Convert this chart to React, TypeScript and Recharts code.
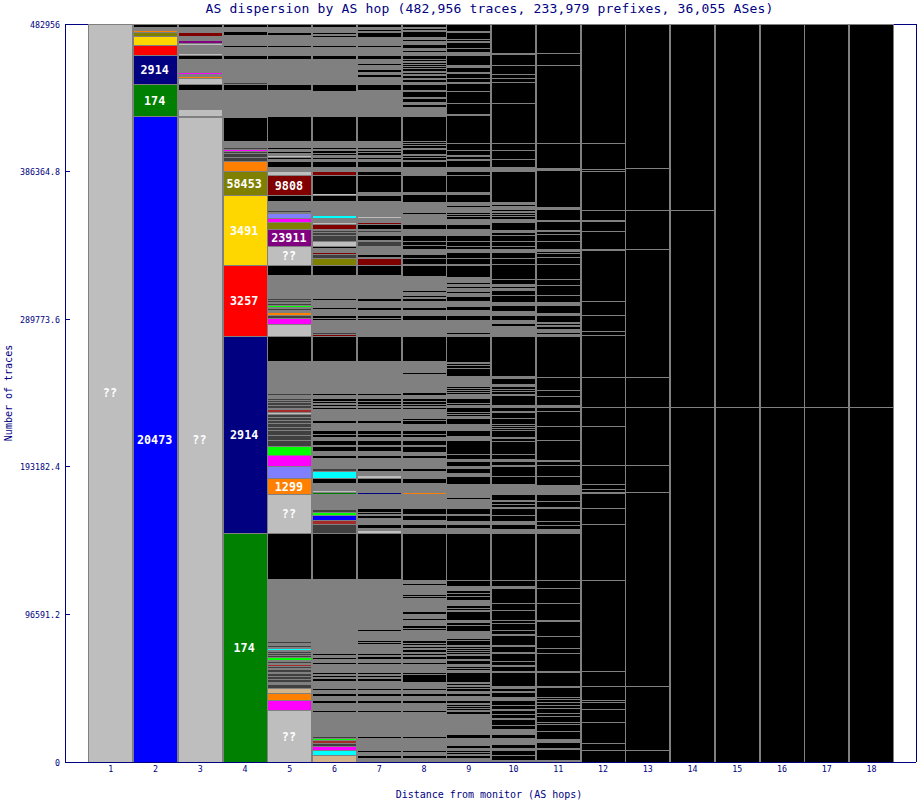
import React from "react";
import { BarChart, Bar, XAxis, YAxis, ReferenceLine } from "recharts";

const TOTAL = 482956;
const yTicks = [0, 96591.2, 193182.4, 289773.6, 386364.8, 482956];
const NAVY = "#000080";
const MONO = "'DejaVu Sans Mono', 'Liberation Mono', monospace";

const palette: Record<string, string> = {
  g: "#808080", k: "#000000", d: "#404040", l: "#BEBEBE", b: "#0000FF", n: "#000080",
  G: "#008000", r: "#FF0000", y: "#FFD700", o: "#808000", O: "#FF8000", m: "#FF00FF",
  M: "#800080", R: "#800000", c: "#00FFFF", p: "#8080FF", e: "#00FF00", B: "#A52A2A", t: "#D2B48C",
};

// Every list reads from the top of the column down. Even entries are the gray
// gaps between ASes (trace counts), odd entries the bands named in the *Bands string.
const hop1 = [654, 482302];
const hop1Bands = "l";
const hop1Labels = { l482302: "??" };

const hop2 = [654, 1309, 2618, 654, 654, 1963, 654, 5235, 654, 5890, 654, 18323, 654, 20287, 654, 422094];
const hop2Bands = "kOoyrnGb";
const hop2Labels = { b422094: "20473", n18323: "2914", G20287: "174" };

const hop3 = [654, 1309, 3926, 1963, 3272, 1309, 654, 654, 5890, 654, 654, 1963, 9162, 654, 1963, 654, 654, 3272, 654, 3272, 13088, 3926, 1309, 421440];
const hop3Bands = "kRMllkmOlkll";
const hop3Labels = { l421440: "??" };

const hop4 = [654, 1309, 3272, 1963, 7199, 654, 5890, 1963, 15706, 654, 654, 3272, 18323, 15051, 4581, 654, 654, 654, 654, 654, 654, 1963, 654, 1963, 654, 5890, 654, 15051, 654, 45154, 654, 45809, 654, 128264, 654, 149205];
const hop4Bands = "kkkkdkkdmdddOoyrnG";
const hop4Labels = { o15051: "58453", y45154: "3491", r45809: "3257", n128264: "2914", G149205: "174" };

const hop5 = [654,1309,3926,1309,7199,654,5890,1963,17015,3272,17669,15706,4581,654,1963,654,1963,654,654,654,1963,3272,3272,1963,654,12434,654,3272,6544,654,1309,2618,654,1963,654,3926,654,10471,654,11779,654,5890,15706,654,654,654,1309,654,654,654,1309,654,1963,1309,654,1309,654,3272,654,7199,654,15706,21596,654,2618,654,654,654,654,1309,654,1309,1309,1309,654,654,654,1309,654,1309,654,1309,654,1963,654,1309,654,2618,654,2618,654,3272,654,5235,654,6544,654,7199,654,9816,654,24868,654,29448,41228,654,1963,654,1309,654,1309,654,654,654,654,654,654,1309,1309,654,1309,654,654,654,1309,1309,1309,1309,654,1309,654,1309,1963,1963,654,2618,654,3926,654,5890,654,33375];
const hop5Bands = "kkkkkkkk" + "lkklRkdpmoMlk" + "dddedOdmlk" + "dddddBldddddddd" + "empOlk" + "ddcddd" + "edB" + "dddddd" + "tOml";
const hop5Labels = { R12434: "9808", M10471: "23911", l11779: "??", O9816: "1299", l24868: "??", l33375: "??" };

const hop6 = [654,1309,3926,654,1309,654,5890,654,5890,1963,17015,3926,17015,15706,4581,654,1309,1309,654,654,1963,654,1963,3272,3272,1963,654,11779,0,654,654,3272,9816,1309,3272,654,654,2618,1309,654,654,1309,654,3272,654,2618,654,654,3272,654,654,1963,654,3926,654,5890,15706,654,5235,654,4581,1309,654,654,8507,654,654,654,654,15706,21596,654,2618,1309,654,654,1309,654,1309,654,7853,1309,5235,1963,654,1309,2618,2618,1309,2618,3272,1309,7199,1309,654,3926,654,2618,5235,654,654,654,10471,1309,654,1309,654,2618,654,1963,654,5235,654,29448,49081,654,1963,654,2618,654,5890,654,1309,654,1309,1309,5235,654,2618,1309,3272,1309,5235,654,16360,654,654,654,654,1309,654,1309,654,1963,654,2618,654,3926];
const hop6Bands = "kkkkkkkkkkkk" + "RklkclRdddlkRdo" + "kkkkk" + "dR" + "kkkkkkkkkkkk" + "dcklGdebBd" + "kkkkkkkkkkk" + "deBdmct";

const hop7 = [654,1309,1963,654,1309,2618,5890,654,5890,1963,3272,654,3272,1309,1963,1309,5235,3272,17669,15706,4581,654,1309,654,654,1309,1963,654,1963,3272,3272,1963,654,10471,2618,3272,10471,654,3272,654,654,2618,1309,654,2618,2618,1309,2618,5890,1309,1309,3926,654,5890,15706,1309,4581,1309,3926,1309,654,654,11125,15706,21596,654,2618,1309,654,1309,654,654,1309,654,7853,1309,5235,1963,654,1309,2618,2618,1309,2618,3272,1309,7199,1309,3272,1309,654,2618,6544,654,9816,1963,654,654,1309,1309,4581,1963,1963,1309,654,29448,33375,654,6544,654,654,654,6544,654,1309,1309,2618,654,5890,654,1309,654,1309,1309,5235,654,2618,1309,3272,1309,5235,654,16360,654,8507,654,2618,1309,2618];
const hop7Bands = "kkkkkkkkkkkkkkkkkk" + "lRkdkdkR" + "kkkkkkkkkkkkkkkkkk" + "lkn" + "kkkk" + "l";

const hop8 = [654,1309,1309,654,1309,3272,1963,654,2618,1963,1963,654,2618,1963,654,654,1309,654,654,654,654,654,654,1309,1309,654,1309,1309,1309,1309,1963,3272,1309,3272,1309,1963,1963,1309,6544,15706,
  654,654,654,654,654,1309,1309,2618,1309,654,654,1309,1309,3272,5890,10471,1963,4581,7199,654,
  7199,2618,4581,3272,654,1963,654,1963,3926,1963,654,3272,1309,6544,9816,654,2618,654,1309,1309,
  4581,1309,3926,2618,11125,15706,7853,654,12434,1309,2618,1309,654,1309,654,654,1309,654,6544,654,
  654,1963,4581,1963,654,1309,2618,2618,1309,3272,2618,1309,7199,1309,5235,2618,6544,654,
  9816,3272,1309,2618,3272,1963,3926,30103,2618,654,6544,654,654,654,9162,1309,3272,654,3926,1309,654,654,7199,1309,654,654,1309,654,1309,1309,1309,654,1309,1309,2618,654,5890,654,654,4581,4581,654,2618,1309,3272,1309,5235,654,16360,654,8507,654,2618,1309,2618];
const hop8Bands = "k".repeat(58) + "O";

const hop9 = [654,3926,1309,3926,654,654,1309,3272,654,1963,2618,5890,1963,2618,1309,2618,654,1963,1309,4581,654,7199,654,6544,1309,17669,654,3926,654,2618,1309,1309,1309,3926,3272,1963,654,10471,1963,4581,2618,654,3926,654,654,654,654,1309,3926,2618,4581,3272,654,2618,654,1309,2618,3272,654,3272,1309,7199,3926,654,1963,654,2618,654,2618,2618,3926,1963,3926,2618,8507,654,1963,16360,1309,654,654,1309,654,4581,7199,654,654,654,654,654,654,654,3272,2618,654,654,1963,2618,654,654,654,654,1963,3272,4581,3272,3272,8507,654,2618,1963,2618,1963,2618,2618,4581,9162,654,6544,3272,1309,3272,2618,1963,3926,30103,654,3272,3272,1309,654,1309,654,1963,3926,1309,654,654,1309,5235,1963,1309,654,3272,5235,654,654,2618,1309,654,654,654,654,654,654,654,1309,1963,1309,1963,1963,654,654,654,1963,5890,1309,654,1309,654,654,1309,1963,1309,3272,1309,1309,654,654,654,654,654,1309,1309,13743,1963,5235,1309,1963,654,654,654,1309,1309,2618];

const hop10 = [654,18323,1309,6544,654,5235,654,1963,654,1963,654,13088,654,25522,654,3926,654,5235,654,4581,3272,19632,1963,654,2618,654,1309,654,654,654,654,1309,2618,4581,1963,1309,654,3272,654,2618,654,1309,2618,3272,654,3272,654,9162,654,2618,1963,654,1963,2618,654,3926,2618,3272,3272,2618,2618,1309,7199,25522,1963,3272,1963,1309,654,654,654,1309,1309,5890,1963,1963,1309,3272,654,3272,654,654,654,654,654,654,654,3926,1309,1309,654,7853,654,2618,1963,1963,1309,5890,654,4581,7199,3272,1309,1309,654,1309,1309,3926,654,3272,2618,2618,3272,30103,654,3272,1963,9162,654,3926,654,5890,654,1309,654,3926,654,1963,1309,5890,1309,3272,1309,4581,654,1963,1309,2618,1309,8507,1963,1309,1309,2618,2618,2618,654,1963,1309,1963,654,1963,1309,3272,654,1963,3926,1963,4581,1963,1963,2618,654,2618,1309];

const hop11 = [654,18323,654,7199,654,50390,654,15706,1963,23559,1963,6544,1309,5235,1309,1309,654,3926,654,4581,1963,654,654,1963,654,3926,654,9162,654,3272,654,5890,654,3926,2618,4581,1963,3926,1309,654,1309,1309,2618,654,1963,26176,654,7853,654,3272,654,5235,1963,1963,654,9162,654,8507,654,12434,1309,1963,654,6544,654,5235,6544,3926,654,3272,1309,7853,654,1963,654,1963,3272,30103,654,4581,654,9162,654,10471,1309,9162,654,7199,654,2618,654,11125,1309,8507,1309,5890,654,654,654,1309,654,1309,654,1309,654,2618,654,1309,654,3272,654,654,654,3926,654,4581,2618,3272,1309,6544,1309];

const hop12 = [654,77220,654,16360,654,654,654,24868,654,5890,1309,5890,654,11125,1309,32721,654,8507,654,9816,654,1963,654,26831,654,18978,654,11779,654,24868,654,11779,654,2618,654,1309,1309,9162,654,9816,654,35993,654,58897,654,9162,654,8507,654,654,654,3926,654,7853,654,13088,654,3926,654,7199];
const hop13 = [654,93581,654,26831,654,24868,654,83110,654,18978,654,37301,654,17015,654,126301,654,41228,654,7199];
const hop14 = [654,121066,654,128264,654,231661];
const hop15 = [654,249985,654,231661];
const hop16 = [654,249985,654,231661];
const hop17 = [654,249985,654,231661];
const hop18 = [654,249985,654,231661];

const columns: { values: number[]; bands: string; labels: Record<string, string> }[] = [
  { values: hop1, bands: hop1Bands, labels: hop1Labels },
  { values: hop2, bands: hop2Bands, labels: hop2Labels },
  { values: hop3, bands: hop3Bands, labels: hop3Labels },
  { values: hop4, bands: hop4Bands, labels: hop4Labels },
  { values: hop5, bands: hop5Bands, labels: hop5Labels },
  { values: hop6, bands: hop6Bands, labels: {} },
  { values: hop7, bands: hop7Bands, labels: {} },
  { values: hop8, bands: hop8Bands, labels: {} },
  { values: hop9, bands: "", labels: {} },
  { values: hop10, bands: "", labels: {} },
  { values: hop11, bands: "", labels: {} },
  { values: hop12, bands: "", labels: {} },
  { values: hop13, bands: "", labels: {} },
  { values: hop14, bands: "", labels: {} },
  { values: hop15, bands: "", labels: {} },
  { values: hop16, bands: "", labels: {} },
  { values: hop17, bands: "", labels: {} },
  { values: hop18, bands: "", labels: {} },
];

// Stack rows: s0 is the bottom of each column.
const rows = columns.map((col, i) => {
  const row: Record<string, any> = { hop: String(i + 1) };
  const n = col.values.length;
  for (let top = 0; top < n; top++) {
    const code = top % 2 === 0 ? "g" : col.bands[(top - 1) / 2] ?? "k";
    const j = n - 1 - top;
    row[`s${j}`] = col.values[top];
    row[`c${j}`] = palette[code];
    const label = col.labels[`${code}${col.values[top]}`];
    if (label) row[`t${j}`] = label;
  }
  return row;
});
const maxSegments = Math.max(...columns.map((c) => c.values.length));
const segmentIds = Array.from({ length: maxSegments }, (_, j) => j);

const segment = (j: number) => (p: any) => {
  const { x, y, width, height, payload } = p;
  const v = payload[`s${j}`];
  if (!v || !(height > 0)) return <g />;
  const label = payload[`t${j}`];
  return (
    <g>
      <rect x={x - 1} y={y} width={width + 2} height={height} fill="#808080" shapeRendering="crispEdges" />
      <rect x={x} y={y} width={width} height={height} fill={payload[`c${j}`]} shapeRendering="crispEdges" />
      {label ? (
        <text
          x={x + width / 2 - 1}
          y={y + height / 2}
          textAnchor="middle"
          dominantBaseline="central"
          fill="#FFFFFF"
          fontFamily={MONO}
          fontWeight="bold"
          fontSize={11.7}
        >
          {label}
        </text>
      ) : null}
    </g>
  );
};

const YTick = (p: any) => (
  <g>
    <text x={p.x} y={p.y + 0.5} textAnchor="end" dominantBaseline="central" fontFamily={MONO} fontSize={8.3} fill={NAVY}>
      {p.payload.value}
    </text>
    <line x1={65} x2={70} y1={p.y} y2={p.y} stroke={NAVY} shapeRendering="crispEdges" />
  </g>
);

const XTick = (p: any) => (
  <text x={p.x} y={769} textAnchor="middle" dominantBaseline="central" fontFamily={MONO} fontSize={8.3} fill={NAVY}>
    {p.payload.value}
  </text>
);

export default function App() {
  return (
    <div style={{ position: "absolute", left: 0, top: 0, width: 917, height: 800, background: "#fff" }}>
      <BarChart
        width={917}
        height={800}
        data={rows}
        margin={{ top: 24, right: 0, bottom: 0, left: 0 }}
        barCategoryGap={0}
        barGap={0}
      >
        <XAxis
          dataKey="hop"
          interval={0}
          padding={{ left: 23.4, right: 22.1 }}
          height={38}
          tickLine={false}
          tick={<XTick />}
          axisLine={{ stroke: NAVY, shapeRendering: "crispEdges" }}
        />
        <YAxis
          width={65}
          type="number"
          domain={[0, TOTAL]}
          ticks={yTicks}
          interval={0}
          tickSize={0}
          tickMargin={5}
          tickLine={false}
          tick={<YTick />}
          axisLine={{ stroke: NAVY, shapeRendering: "crispEdges" }}
        />
        <YAxis
          yAxisId="right"
          orientation="right"
          width={1}
          domain={[0, TOTAL]}
          tick={false}
          tickLine={false}
          axisLine={{ stroke: NAVY, shapeRendering: "crispEdges" }}
        />
        <ReferenceLine y={TOTAL} stroke={NAVY} shapeRendering="crispEdges" zIndex={-10} />
        {segmentIds.map((j) => (
          <Bar
            key={j}
            dataKey={`s${j}`}
            stackId="hops"
            barSize={43}
            isAnimationActive={false}
            shape={segment(j)}
          />
        ))}
        <text x={489.5} y={8} textAnchor="middle" dominantBaseline="central" fontFamily={MONO} fontSize={13} letterSpacing={0.17} fill={NAVY}>
          AS dispersion by AS hop (482,956 traces, 233,979 prefixes, 36,055 ASes)
        </text>
        <text x={489} y={794} textAnchor="middle" dominantBaseline="central" fontFamily={MONO} fontSize={10} fill={NAVY}>
          Distance from monitor (AS hops)
        </text>
        <text
          x={8}
          y={393}
          textAnchor="middle"
          dominantBaseline="central"
          fontFamily={MONO}
          fontSize={10}
          fill={NAVY}
          transform="rotate(-90 8 393)"
        >
          Number of traces
        </text>
      </BarChart>
    </div>
  );
}
